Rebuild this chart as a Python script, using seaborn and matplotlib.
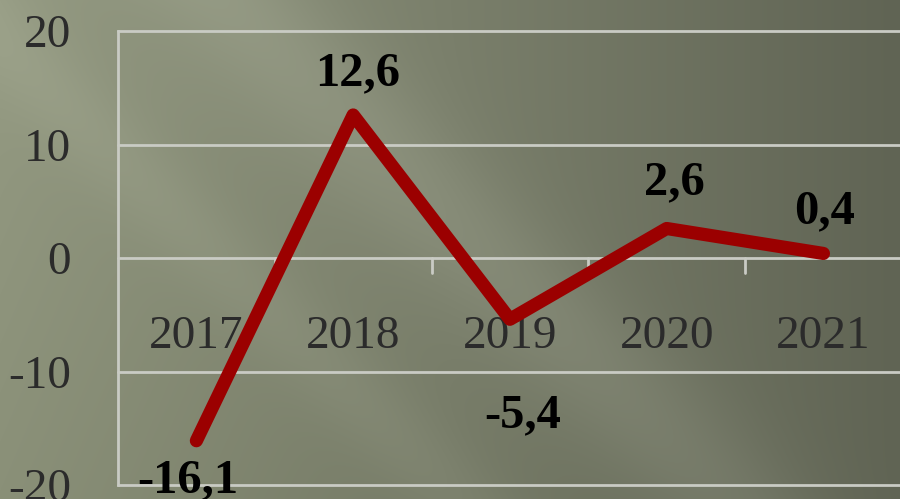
import numpy as np
import matplotlib
matplotlib.use("Agg")
import matplotlib.pyplot as plt
import seaborn as sns
import pandas as pd

years = ["2017", "2018", "2019", "2020", "2021"]
values = [-16.1, 12.6, -5.4, 2.6, 0.4]
labels = ["-16,1", "12,6", "-5,4", "2,6", "0,4"]
y_ticks = [-20, -10, 0, 10, 20]

sns.set_theme(style="white")
plt.rcParams["font.family"] = ["Liberation Serif", "DejaVu Serif"]

fig = plt.figure(figsize=(9.0, 4.99), dpi=100)

# background gradient
H, W = 499, 900
yy, xx = np.mgrid[0:H, 0:W]
t = xx / W
base_l = np.array([148, 154, 130]) / 255.0
base_r = np.array([96, 100, 84]) / 255.0
img = base_l[None, None, :] * (1 - t[..., None]) + base_r[None, None, :] * t[..., None]
d = (xx - 1.0 * yy)
streak = 0.05 * np.exp(-((d - 230) / 90.0) ** 2) + 0.03 * np.exp(-((d + 40) / 60.0) ** 2)
img = img + streak[..., None]
img = img - 0.04 * np.clip((yy / H) - (xx / W), 0, 1)[..., None]
img = np.clip(img, 0, 1)
bg = fig.add_axes([0, 0, 1, 1], zorder=0)
bg.imshow(img, aspect="auto", extent=[0, 1, 0, 1])
bg.axis("off")

ax = fig.add_axes([118 / 900, 1 - 485 / 499, 1 - 118 / 900 + 0.002, (485 - 31) / 499], zorder=1)
ax.set_facecolor("none")

df = pd.DataFrame({"year": years, "value": values})
sns.lineplot(data=df, x="year", y="value", ax=ax, color="#9b0000", lw=9.5,
             solid_capstyle="round", solid_joinstyle="round", sort=False, zorder=5)

ax.set_xlim(-0.5, 4.5)
ax.set_ylim(-20, 20)
ax.set_yticks(y_ticks)
ax.set_yticklabels([str(v) for v in y_ticks])
ax.set_xlabel("")
ax.set_ylabel("")

gc = "#c9cbc4"
for v in y_ticks:
    ax.axhline(v, color=gc, lw=2, zorder=2, clip_on=False)
for s in ["top", "right", "bottom"]:
    ax.spines[s].set_visible(False)
ax.spines["left"].set_color(gc)
ax.spines["left"].set_linewidth(2)
ax.tick_params(axis="y", length=11, width=2, color=gc, direction="out",
               labelsize=34, labelcolor="#2b2b2b", pad=23)
for lab in ax.get_yticklabels():
    lab.set_va("center_baseline")
ax.set_xticks([])
for b in [0.5, 1.5, 2.5, 3.5]:
    ax.plot([b, b], [0, -1.3], color=gc, lw=2, zorder=2)
for i, yr in enumerate(years):
    ax.text(i, -7.93, yr, ha="center", va="baseline", fontsize=34, color="#2b2b2b", zorder=3)

# data labels (baseline offsets)
offsets = [(-0.055, -4.5), (0.03, 2.64), (0.08, -9.5), (0.05, 3.04), (0.01, 2.68)]
for i, (v, lab) in enumerate(zip(values, labels)):
    dx, dy = offsets[i]
    ax.text(i + dx, v + dy, lab, ha="center", va="baseline", fontsize=35,
            fontweight="bold", color="black", zorder=6, clip_on=False)

fig.savefig("out.png", dpi=100)
